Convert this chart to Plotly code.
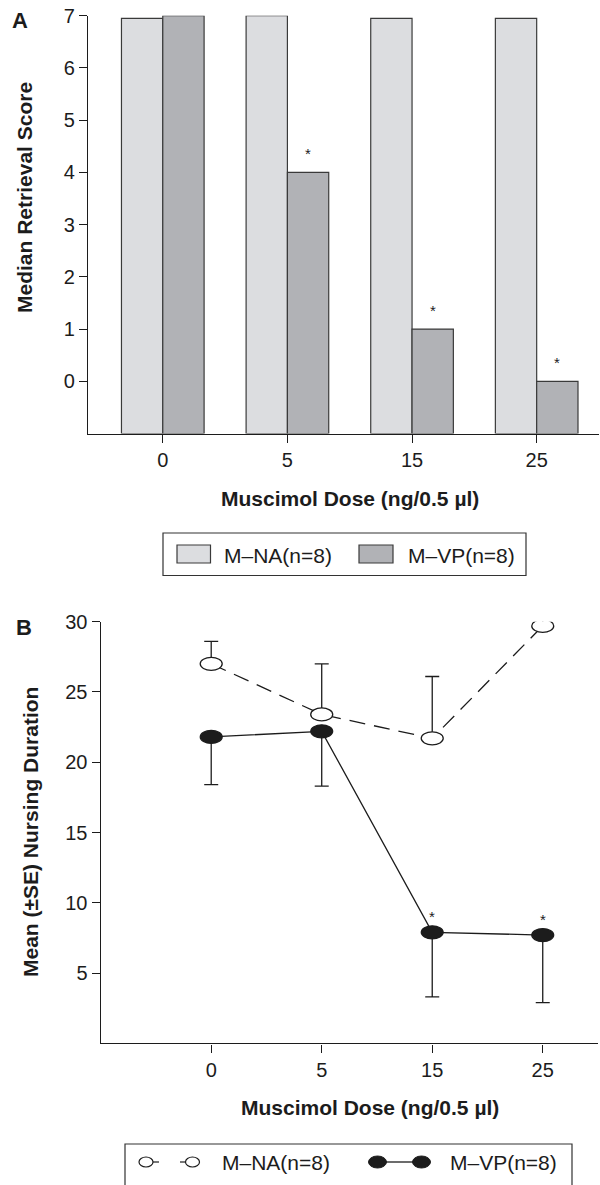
import plotly.graph_objects as go

# ---------------- data ----------------
doses = ["0", "5", "15", "25"]

retrieval_na = [6.95, 7.0, 6.95, 6.95]
retrieval_vp = [7.0, 4.0, 1.0, 0.0]
retrieval_sig = [False, True, True, True]
retrieval_ticks = [0, 1, 2, 3, 4, 5, 6, 7]

nursing_na = [27.0, 23.4, 21.7, 29.7]
nursing_na_se = [1.6, 3.6, 4.4, 0.6]
nursing_vp = [21.8, 22.2, 7.9, 7.7]
nursing_vp_se = [3.4, 3.9, 4.6, 4.8]
nursing_sig = [False, False, True, True]
nursing_ticks = [5, 10, 15, 20, 25, 30]

series_names = ["M\u2013NA(n=8)", "M\u2013VP(n=8)"]

# ---------------- style ----------------
W, H = 600, 1185
FONT = "Liberation Sans, Arial, Helvetica, sans-serif"
INK = "#1c1c1c"
NA_FILL = "#dcdde0"
VP_FILL = "#b1b2b6"
BAR_BASE = -1


def px(x):
    return x / W


def py(y):
    return 1 - y / H


fig = go.Figure()

# Panel A bars
fig.add_trace(go.Bar(
    x=doses, y=[v - BAR_BASE for v in retrieval_na], base=BAR_BASE,
    name=series_names[0], xaxis="x", yaxis="y",
    marker=dict(color=NA_FILL, line=dict(color="#3a3a3a", width=1.2)),
    showlegend=False,
))
fig.add_trace(go.Bar(
    x=doses, y=[v - BAR_BASE for v in retrieval_vp], base=BAR_BASE,
    name=series_names[1], xaxis="x", yaxis="y",
    marker=dict(color=VP_FILL, line=dict(color="#3a3a3a", width=1.2)),
    showlegend=False,
))

# Panel B lines
fig.add_trace(go.Scatter(
    x=doses, y=nursing_na, mode="lines+markers", name=series_names[0],
    xaxis="x2", yaxis="y2",
    line=dict(color=INK, width=1.3, dash="16px,9px"),
    marker=dict(size=10, color="white"),
    error_y=dict(type="data", symmetric=False, array=nursing_na_se,
                 arrayminus=[0] * len(nursing_na), color=INK, thickness=1.3, width=7),
    showlegend=False,
))
fig.add_trace(go.Scatter(
    x=doses, y=nursing_vp, mode="lines+markers", name=series_names[1],
    xaxis="x2", yaxis="y2",
    line=dict(color=INK, width=1.3),
    marker=dict(size=10, color=INK),
    error_y=dict(type="data", symmetric=False, array=[0] * len(nursing_vp),
                 arrayminus=nursing_vp_se, color=INK, thickness=1.3, width=7),
    showlegend=False,
))

shapes = []
# ellipse markers anchored to the data
for i, v in enumerate(nursing_vp):
    shapes.append(dict(type="circle", xref="x2", yref="y2", xsizemode="pixel", ysizemode="pixel",
                       xanchor=i, yanchor=v, x0=-11, x1=11, y0=-6.5, y1=6.5,
                       fillcolor=INK, line=dict(color=INK, width=1.2), layer="above"))
for i, v in enumerate(nursing_na):
    shapes.append(dict(type="circle", xref="x2", yref="y2", xsizemode="pixel", ysizemode="pixel",
                       xanchor=i, yanchor=v, x0=-11, x1=11, y0=-6.5, y1=6.5,
                       fillcolor="white", line=dict(color=INK, width=1.3), layer="above"))

# Legend A (manual)
shapes.append(dict(type="rect", xref="paper", yref="paper", x0=px(163), x1=px(526),
                   y0=py(575.5), y1=py(533), line=dict(color="#333", width=1.2)))
shapes.append(dict(type="rect", xref="paper", yref="paper", x0=px(177), x1=px(210.5),
                   y0=py(563), y1=py(545), fillcolor=NA_FILL, line=dict(color="#3a3a3a", width=1.2)))
shapes.append(dict(type="rect", xref="paper", yref="paper", x0=px(359), x1=px(393),
                   y0=py(563), y1=py(545), fillcolor=VP_FILL, line=dict(color="#3a3a3a", width=1.2)))

# Legend B (manual)
shapes.append(dict(type="rect", xref="paper", yref="paper", x0=px(125), x1=px(572),
                   y0=py(1192), y1=py(1144), line=dict(color="#333", width=1.2)))
LY = 1162
for cx in (146, 192.5):
    shapes.append(dict(type="circle", xref="paper", yref="paper", x0=px(cx - 7), x1=px(cx + 7),
                       y0=py(LY + 5), y1=py(LY - 5), fillcolor="white", line=dict(color=INK, width=1.2)))
for a, b in ((153, 159), (180, 185)):
    shapes.append(dict(type="line", xref="paper", yref="paper", x0=px(a), x1=px(b),
                       y0=py(LY), y1=py(LY), line=dict(color=INK, width=1.2)))
shapes.append(dict(type="line", xref="paper", yref="paper", x0=px(386), x1=px(413),
                   y0=py(LY), y1=py(LY), line=dict(color=INK, width=1.3)))
for cx in (377.5, 421.5):
    shapes.append(dict(type="circle", xref="paper", yref="paper", x0=px(cx - 9), x1=px(cx + 9),
                       y0=py(LY + 6), y1=py(LY - 6), fillcolor=INK, line=dict(color=INK, width=1)))

annotations = []


def txt(x, y, s, size, **kw):
    d = dict(xref="paper", yref="paper", x=px(x), y=py(y), text=s, showarrow=False,
             font=dict(family=FONT, size=size, color=INK), xanchor="center", yanchor="middle")
    d.update(kw)
    annotations.append(d)


txt(20, 21, "<b>A</b>", 22)
txt(24, 627, "<b>B</b>", 22)
txt(24, 198, "<b>Median Retrieval Score</b>", 21, textangle=-90)
txt(30, 832, "<b>Mean (\u00b1SE) Nursing Duration</b>", 21, textangle=-90)
txt(350.5, 498, "<b>Muscimol Dose (ng/0.5 \u00b5l)</b>", 21)
txt(370, 1107, "<b>Muscimol Dose (ng/0.5 \u00b5l)</b>", 21)
txt(222, 555, series_names[0], 21, xanchor="left")
txt(406, 555, series_names[1], 21, xanchor="left")
txt(220, LY, series_names[0], 21, xanchor="left")
txt(448, LY, series_names[1], 21, xanchor="left")

for i, (v, s) in enumerate(zip(retrieval_vp, retrieval_sig)):
    if s:
        annotations.append(dict(xref="x", yref="y", x=i, y=v, xshift=20.5, yshift=19, text="*",
                                showarrow=False, font=dict(family=FONT, size=15, color=INK)))
for i, (v, s) in enumerate(zip(nursing_vp, nursing_sig)):
    if s:
        annotations.append(dict(xref="x2", yref="y2", x=i, y=v, yshift=16, text="*",
                                showarrow=False, font=dict(family=FONT, size=15, color=INK)))

axis_common = dict(showline=True, linecolor=INK, linewidth=1.4, ticks="outside", ticklen=8,
                   tickwidth=1.3, tickcolor=INK, showgrid=False, zeroline=False,
                   tickfont=dict(family=FONT, size=20, color=INK), automargin=False)

fig.update_layout(
    width=W, height=H, margin=dict(l=0, r=0, t=0, b=0),
    paper_bgcolor="white", plot_bgcolor="white",
    barmode="group", bargap=0.337, bargroupgap=0,
    showlegend=False,
    xaxis=dict(domain=[px(88), px(599)], anchor="y", type="category",
               range=[-0.6, 3.5], **axis_common),
    yaxis=dict(domain=[py(433.5), py(15.7)], anchor="x", range=[BAR_BASE, 7],
               tickvals=retrieval_ticks, **axis_common),
    xaxis2=dict(domain=[px(100.7), px(598)], anchor="y2", type="category",
                range=[-1, 3.5], **axis_common),
    yaxis2=dict(domain=[py(1043.3), py(621.7)], anchor="x2", range=[0, 30],
                tickvals=nursing_ticks, **axis_common),
    shapes=shapes,
    annotations=annotations,
)

fig.write_html("out.html")
